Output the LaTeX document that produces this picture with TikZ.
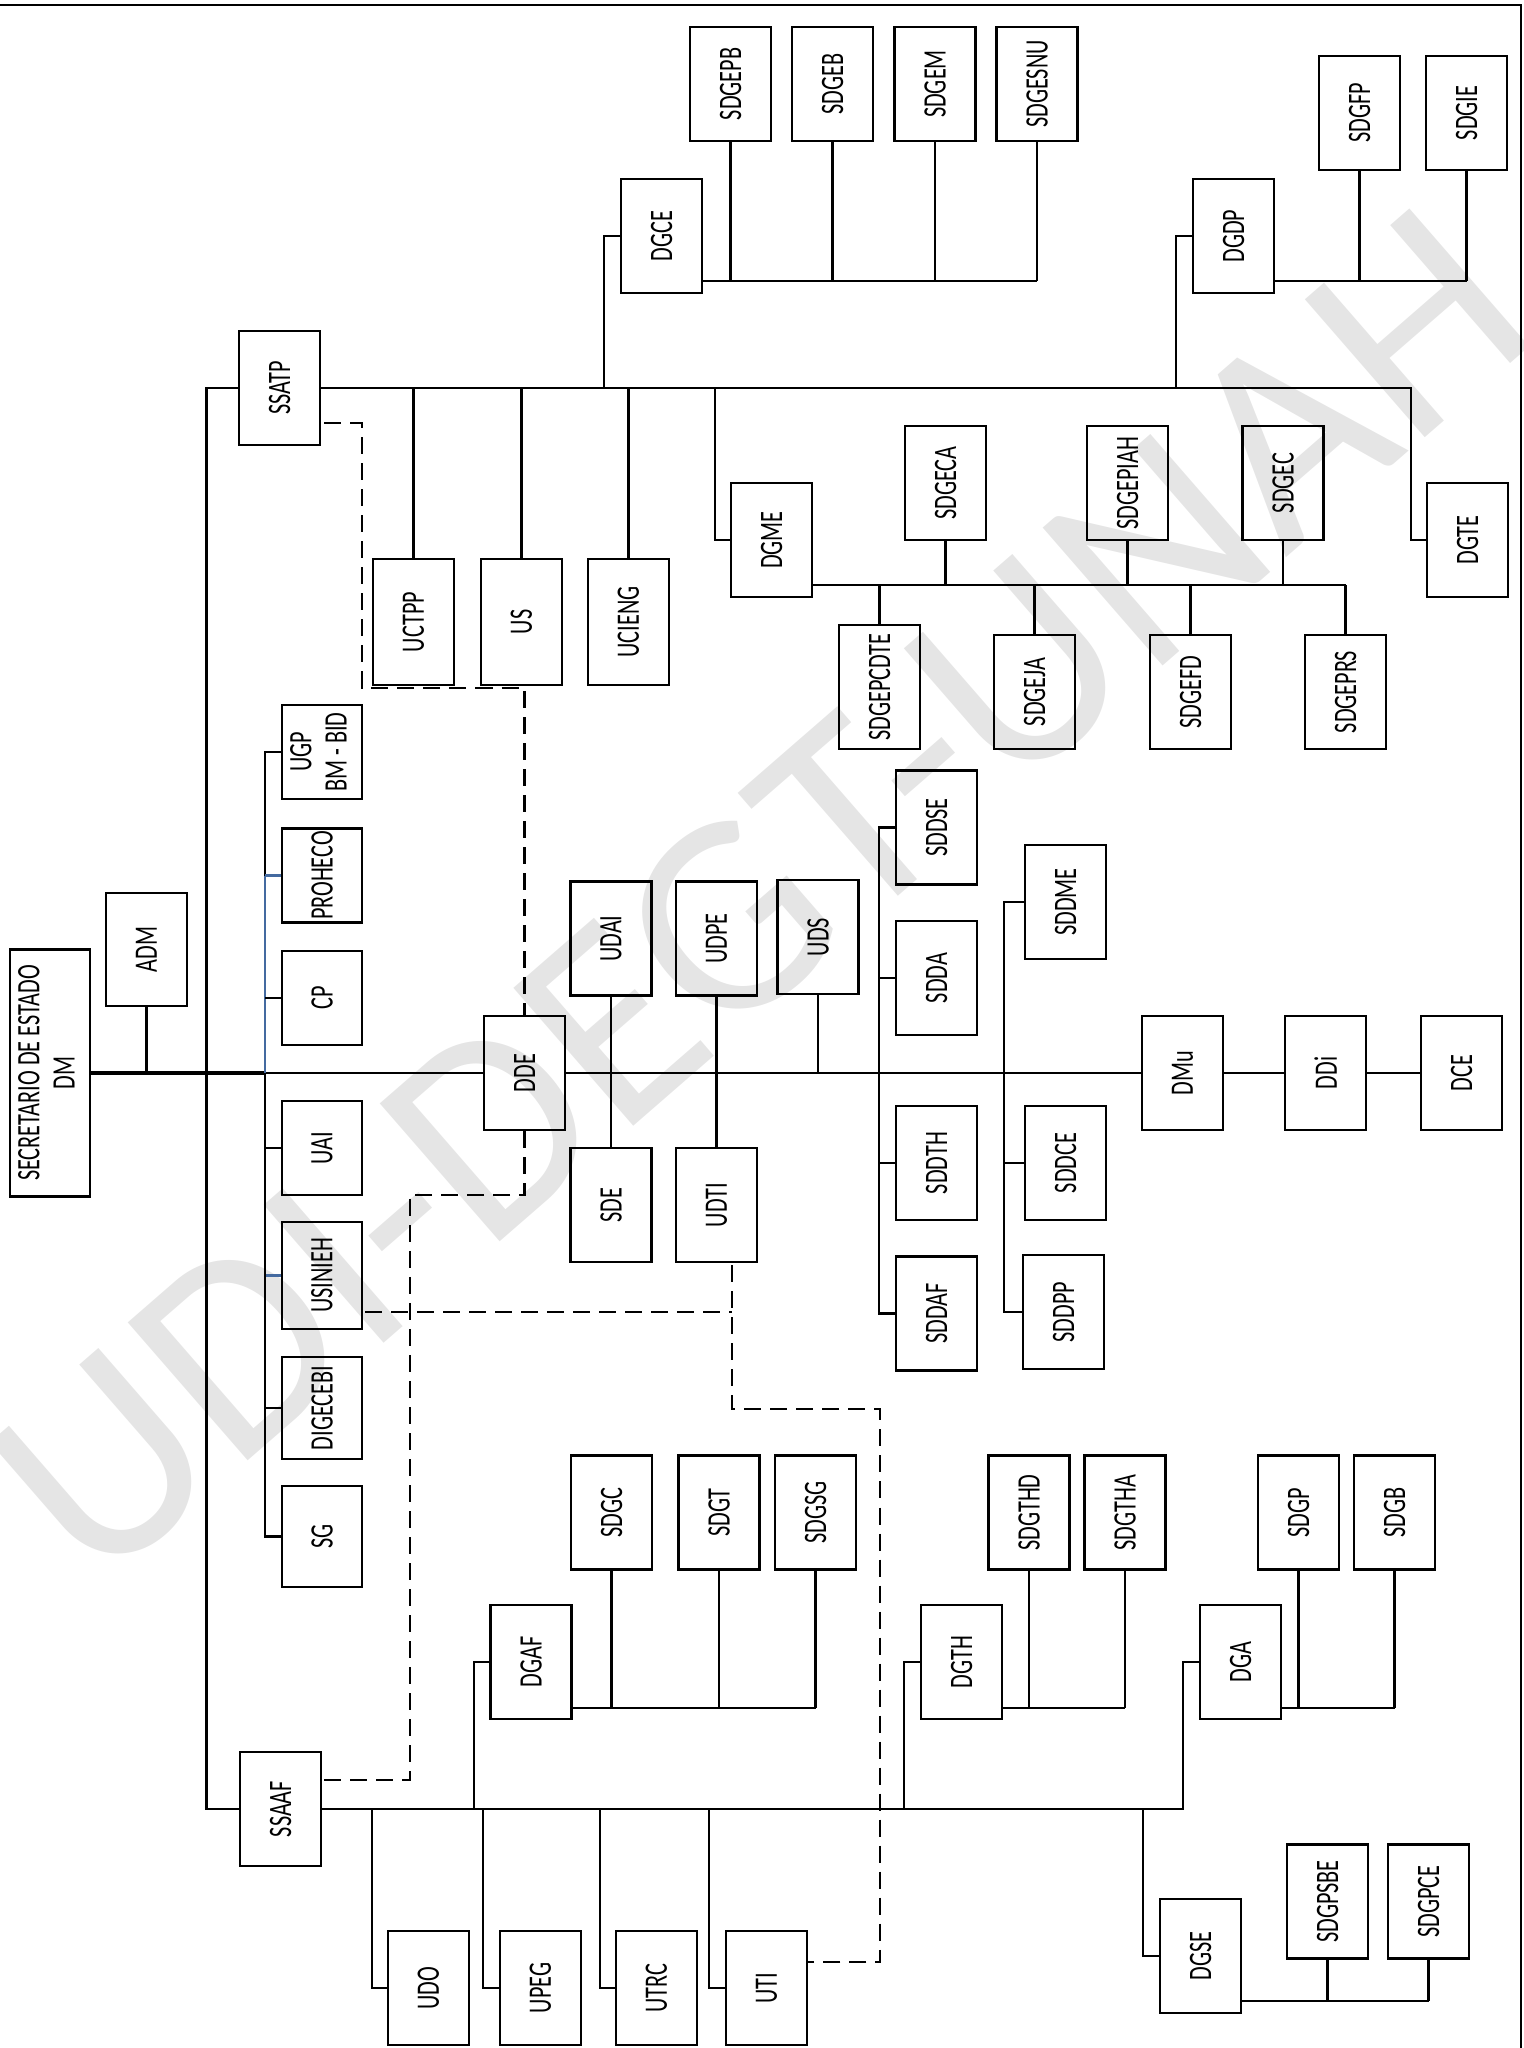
\documentclass[tikz,border=0pt]{standalone}
\usepackage{graphicx}
\usepackage{fontspec}
\setmainfont{Carlito}
\newfontfamily\lblfont{Carlito}[FakeStretch=0.68]
\usetikzlibrary{calc}

\definecolor{linkblue}{RGB}{68,106,160}
\tikzset{
  unit/.style={draw, line width=0.7pt, inner sep=0pt, minimum width=0.81cm,
    minimum height=1.14cm, font={\lblfont\fontsize{9.3}{10}\selectfont}},
  tallunit/.style={unit, minimum height=1.26cm},
  sideunit/.style={unit, minimum width=0.80cm, minimum height=0.94cm},
  link/.style={line width=0.6pt},
  mainlink/.style={line width=1pt},
  bluelink/.style={line width=0.6pt, draw=linkblue},
  dashlink/.style={line width=0.6pt, dash pattern=on 0.17cm off 0.09cm},
}
\newcommand{\vtext}[1]{\rotatebox{90}{#1}}

\begin{document}
\begin{tikzpicture}[x=0.01cm,y=-0.01cm]
  \useasboundingbox (0,0) rectangle (1524,2048);
  % watermark
  \node[text=black!10, font={\fontsize{81}{81}\selectfont}, rotate=41] (wm) at (760,895) {UDI-DEGT-UNAH};
  \draw[line width=0.7pt] (0,5) -- (1521,5) -- (1521,2048);

  % --- SSATP branch
  \node[unit] (ssatp) at (279.5,388) {\vtext{SSATP}};
  \node[unit] (dgce) at (661.5,236) {\vtext{DGCE}};
  \node[unit] (dgdp) at (1233.5,236) {\vtext{DGDP}};
  \node[unit] (dgme) at (771.5,540) {\vtext{DGME}};
  \node[unit] (dgte) at (1467.5,540) {\vtext{DGTE}};
  \foreach \n/\x/\t in {sdgepb/730.5/SDGEPB, sdgeb/832.5/SDGEB, sdgem/935/SDGEM, sdgesnu/1037/SDGESNU}
    \node[unit] (\n) at (\x,84) {\vtext{\t}};
  \foreach \n/\x/\t in {sdgfp/1359.5/SDGFP, sdgie/1466.5/SDGIE}
    \node[unit] (\n) at (\x,113) {\vtext{\t}};
  \foreach \n/\x/\t in {uctpp/413.5/UCTPP, us/521.5/US, ucieng/628.5/UCIENG}
    \node[tallunit] (\n) at (\x,622) {\vtext{\t}};
  \foreach \n/\x/\t in {sdgeca/945.5/SDGECA, sdgepiah/1127.5/SDGEPIAH, sdgec/1283/SDGEC}
    \node[unit] (\n) at (\x,483) {\vtext{\t}};
  \node[unit, minimum height=1.24cm] (sdgepcdte) at (879.5,687) {\vtext{SDGEPCDTE}};
  \foreach \n/\x/\t in {sdgeja/1034.5/SDGEJA, sdgefd/1190.5/SDGEFD, sdgeprs/1345.5/SDGEPRS}
    \node[unit] (\n) at (\x,692) {\vtext{\t}};

  \coordinate (atp) at (1411,388);
  \draw[link] (ssatp.east) -- (atp) |- (dgte.west);
  \foreach \n in {uctpp,us,ucieng}
    \draw[link] (\n.north) -- (\n.north |- ssatp.east);
  \coordinate (jdgce) at (604,388);
  \coordinate (jdgdp) at (1176,388);
  \coordinate (jdgme) at (715,388);
  \draw[link] (dgce.west) -| (jdgce);
  \draw[link] (dgdp.west) -| (jdgdp);
  \draw[link] (jdgme) |- (dgme.west);
  \coordinate (bce) at (1037,281);
  \draw[link] (dgce.east |- bce) -- (bce);
  \foreach \n in {sdgepb,sdgeb,sdgem,sdgesnu}
    \draw[link] (\n.south) -- (\n.south |- bce);
  \coordinate (bdp) at (1466.5,281);
  \draw[link] (dgdp.east |- bdp) -- (bdp);
  \foreach \n in {sdgfp,sdgie}
    \draw[link] (\n.south) -- (\n.south |- bdp);
  \coordinate (bme) at (1345.5,585);
  \draw[link] (dgme.east |- bme) -- (bme);
  \foreach \n in {sdgeca,sdgepiah,sdgec}
    \draw[link] (\n.south) -- (\n.south |- bme);
  \foreach \n in {sdgepcdte,sdgeja,sdgefd,sdgeprs}
    \draw[link] (\n.north) -- (\n.north |- bme);

  % --- main line
  \node[unit, minimum width=0.80cm, minimum height=2.47cm] (dm) at (50,1073)
    {\vtext{\begin{tabular}{@{}c@{}}SECRETARIO DE ESTADO\\DM\end{tabular}}};
  \node[unit, minimum height=1.13cm] (adm) at (146.5,949.5) {\vtext{ADM}};
  \node[sideunit] (ugp) at (322,752) {\vtext{\begin{tabular}{@{}c@{}}UGP\\BM - BID\end{tabular}}};
  \foreach \n/\y/\t in {proheco/875.5/PROHECO, cp/998/CP, uai/1148/UAI}
    \node[sideunit] (\n) at (322,\y) {\vtext{\t}};
  \node[sideunit, minimum height=1.07cm] (usinieh) at (322,1275.5) {\vtext{USINIEH}};
  \node[sideunit, minimum height=1.02cm] (digecebi) at (322,1408) {\vtext{DIGECEBI}};
  \node[sideunit, minimum height=1.01cm] (sg) at (322,1536.5) {\vtext{SG}};
  \node[unit] (dde) at (524.5,1073) {\vtext{DDE}};
  \node[unit] (udai) at (611,938.5) {\vtext{UDAI}};
  \node[unit] (sde) at (611,1205) {\vtext{SDE}};
  \node[unit] (udpe) at (716.5,938.5) {\vtext{UDPE}};
  \node[unit] (udti) at (716.5,1205) {\vtext{UDTI}};
  \node[unit] (uds) at (818,937) {\vtext{UDS}};
  \foreach \n/\y/\t in {sddse/827.5/SDDSE, sdda/978/SDDA, sddth/1163/SDDTH, sddaf/1313.5/SDDAF}
    \node[unit] (\n) at (936.5,\y) {\vtext{\t}};
  \node[unit] (sddme) at (1065.5,902) {\vtext{SDDME}};
  \node[unit] (sddce) at (1065.5,1163) {\vtext{SDDCE}};
  \node[unit] (sddpp) at (1063.5,1312) {\vtext{SDDPP}};
  \node[unit] (dmu) at (1182.5,1073) {\vtext{DMu}};
  \node[unit] (ddi) at (1325.5,1073) {\vtext{DDi}};
  \node[unit] (dce) at (1461.5,1073) {\vtext{DCE}};

  \coordinate (jside) at (265,1073);
  \coordinate (sidetop) at (265,752);
  \draw[mainlink] (dm.east) -- (jside);
  \draw[link] (jside) -- (dde.west);
  \draw[link] (dde.east) -- (dmu.west);
  \draw[link] (dmu.east) -- (ddi.west);
  \draw[link] (ddi.east) -- (dce.west);
  \draw[link] (adm.south) -- (adm.south |- dm.east);
  \draw[link] (ugp.west) -- (sidetop) -- (sidetop |- proheco.west);
  \draw[bluelink] (sidetop |- proheco.west) -- (jside);
  \draw[bluelink] (proheco.west) -- (proheco.west -| jside);
  \draw[bluelink] (usinieh.west) -- (usinieh.west -| jside);
  \draw[link] (jside) |- (sg.west);
  \foreach \n in {cp,uai,digecebi}
    \draw[link] (\n.west) -- (\n.west -| jside);
  \draw[link] (udai.south) -- (sde.north);
  \draw[link] (udpe.south) -- (udti.north);
  \draw[link] (uds.south) -- (uds.south |- dde.east);
  \coordinate (bdd) at (879,1073);
  \draw[link] (sddse.west) -| (bdd) |- (sddaf.west);
  \foreach \n in {sdda,sddth}
    \draw[link] (\n.west) -- (\n.west -| bdd);
  \coordinate (bdm) at (1004,1073);
  \draw[link] (sddme.west) -| (bdm) |- (sddpp.west);
  \draw[link] (sddce.west) -- (sddce.west -| bdm);

  % --- SSAAF branch
  \node[unit] (ssaaf) at (280.5,1809) {\vtext{SSAAF}};
  \coordinate (jtrunk) at (206.5,388);
  \draw[link] (ssatp.west) -- (jtrunk) |- (ssaaf.west);
  \foreach \n/\x/\t in {dgaf/531/DGAF, dgth/961.5/DGTH, dga/1240.5/DGA}
    \node[unit] (\n) at (\x,1662) {\vtext{\t}};
  \foreach \n/\x/\t in {sdgc/611.5/SDGC, sdgt/719/SDGT, sdgsg/815.5/SDGSG, sdgthd/1029/SDGTHD,
      sdgtha/1125/SDGTHA, sdgp/1298.5/SDGP, sdgb/1394.5/SDGB}
    \node[unit] (\n) at (\x,1512.5) {\vtext{\t}};
  \foreach \n/\x/\t in {udo/428.5/UDO, upeg/540.5/UPEG, utrc/656.5/UTRC, uti/766.5/UTI}
    \node[unit] (\n) at (\x,1988) {\vtext{\t}};
  \node[unit] (dgse) at (1200.5,1956) {\vtext{DGSE}};
  \node[unit] (sdgpsbe) at (1327.5,1901.5) {\vtext{SDGPSBE}};
  \node[unit] (sdgpce) at (1428.5,1901.5) {\vtext{SDGPCE}};

  \coordinate (baf) at (1183,1809);
  \draw[link] (ssaaf.east) -- (baf) |- (dga.west);
  \coordinate (jdgaf) at (474,1809);
  \coordinate (jdgth) at (904,1809);
  \coordinate (jdgse) at (1143,1809);
  \draw[link] (jdgaf) |- (dgaf.west);
  \draw[link] (jdgth) |- (dgth.west);
  \draw[link] (jdgse) |- (dgse.west);
  \foreach \n/\j in {udo/372, upeg/483, utrc/600, uti/709}{
    \coordinate (j\n) at (\j,1809);
    \draw[link] (j\n) |- (\n.west);}
  \coordinate (bgaf) at (815.5,1708);
  \draw[link] (dgaf.east |- bgaf) -- (bgaf);
  \foreach \n in {sdgc,sdgt,sdgsg}
    \draw[link] (\n.south) -- (\n.south |- bgaf);
  \coordinate (bgth) at (1125,1708);
  \draw[link] (dgth.east |- bgth) -- (bgth);
  \foreach \n in {sdgthd,sdgtha}
    \draw[link] (\n.south) -- (\n.south |- bgth);
  \coordinate (bga) at (1394.5,1708);
  \draw[link] (dga.east |- bga) -- (bga);
  \foreach \n in {sdgp,sdgb}
    \draw[link] (\n.south) -- (\n.south |- bga);
  \coordinate (bgse) at (1428.5,2001);
  \draw[link] (dgse.east |- bgse) -- (bgse);
  \foreach \n in {sdgpsbe,sdgpce}
    \draw[link] (\n.south) -- (\n.south |- bgse);

  % --- dashed relations
  \coordinate (dsa) at (362,688);
  \draw[dashlink] ($(ssatp.east)+(3,35)$) -| (dsa) -| (dde.north);
  \coordinate (dsb) at (410,1195);
  \draw[dashlink] (dde.south) |- (dsb) |- ($(ssaaf.east)+(2,-29)$);
  \coordinate (dtu) at ($(udti.south)+(15.5,2)$);
  \coordinate (dsc) at (880,1409);
  \draw[dashlink] (dtu) |- (dsc) |- ($(uti.east)+(0,-26)$);
  \coordinate (dus) at ($(usinieh.east)+(2,36.5)$);
  \draw[dashlink] (dus) -- (dus -| dtu);
\end{tikzpicture}
\end{document}
